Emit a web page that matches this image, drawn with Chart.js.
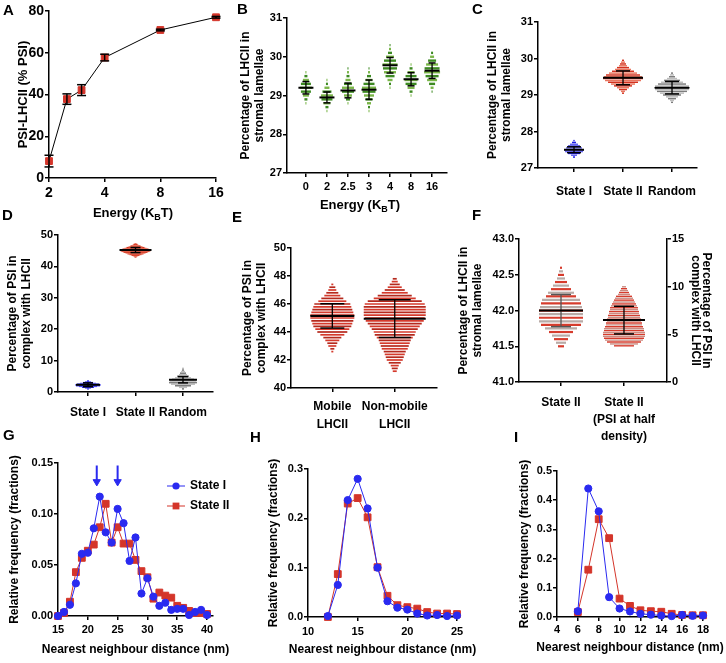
<!DOCTYPE html>
<html>
<head>
<meta charset="utf-8">
<title>LHCII / PSI panels</title>
<script src="https://cdn.jsdelivr.net/npm/chart.js@4.4.1/dist/chart.umd.min.js"></script>
<style>
  body { margin: 0; background: #fff; }
  #page { position: relative; width: 726px; height: 663px; overflow: hidden; font-family: "Liberation Sans", Arial, sans-serif; }
  canvas { position: absolute; }
  .letter { position: absolute; font-weight: bold; font-size: 15px; line-height: 15px; }
  .xtitle { position: absolute; font-weight: bold; font-size: 13px; line-height: 15px; white-space: nowrap; transform: translateX(-50%); }
  .xtitle sub { font-size: 9px; vertical-align: -3px; line-height: 0; }
</style>
</head>
<body>
<div id="page">
  <canvas id="chA" width="240" height="205" style="left:0;top:0"></canvas>
  <canvas id="chB" width="240" height="205" style="left:230px;top:0"></canvas>
  <canvas id="chC" width="256" height="205" style="left:470px;top:0"></canvas>
  <canvas id="chD" width="240" height="210" style="left:0;top:215px"></canvas>
  <canvas id="chE" width="240" height="230" style="left:230px;top:215px"></canvas>
  <canvas id="chF" width="276" height="235" style="left:450px;top:215px"></canvas>
  <canvas id="chG" width="240" height="223" style="left:0;top:440px"></canvas>
  <canvas id="chH" width="240" height="223" style="left:240px;top:440px"></canvas>
  <canvas id="chI" width="246" height="223" style="left:480px;top:440px"></canvas>

  <div class="xtitle" style="left:133px;top:205px">Energy (K<sub>B</sub>T)</div>
  <div class="xtitle" style="left:360px;top:197px">Energy (K<sub>B</sub>T)</div>

  <div class="letter" style="left:3px;top:2px">A</div>
  <div class="letter" style="left:237px;top:1px">B</div>
  <div class="letter" style="left:472px;top:1px">C</div>
  <div class="letter" style="left:2px;top:207px">D</div>
  <div class="letter" style="left:232px;top:209px">E</div>
  <div class="letter" style="left:472px;top:207px">F</div>
  <div class="letter" style="left:3px;top:427px">G</div>
  <div class="letter" style="left:250px;top:429px">H</div>
  <div class="letter" style="left:514px;top:429px">I</div>
</div>
<script>
const FONT = '"Liberation Sans", Arial, sans-serif';
Chart.defaults.font.family = FONT;
Chart.defaults.font.weight = 'bold';
Chart.defaults.color = '#000';

const RED = '#d4352a';
const BLUE = '#2a2af0';

// A - PSI-LHCII vs energy
const aEnergy = [2, 2.5, 3, 4, 8, 16];
const aMean = [8.1, 37.8, 42.1, 57.7, 70.9, 77.0];
const aErr = [2.8, 2.5, 2.6, 1.6, 0.4, 0.4];
const aXTicks = [2, 4, 8, 16];
const aYTicks = [0, 20, 40, 60, 80];

// B - LHCII in stromal lamellae per energy
const bGroups = ['0', '2', '2.5', '3', '4', '8', '16'];
const bBins = [28.5, 28.6, 28.7, 28.8, 28.9, 29.0, 29.1, 29.2, 29.3, 29.4, 29.5, 29.6, 29.7, 29.8, 29.9, 30.0, 30.1, 30.2, 30.3];
const bCounts0 = [0, 0, 0, 1, 3, 6, 10, 12, 10, 6, 3, 1, 0, 0, 0, 0, 0, 0, 0];
const bCounts2 = [0, 1, 3, 7, 11, 12, 9, 5, 2, 1, 0, 0, 0, 0, 0, 0, 0, 0, 0];
const bCounts25 = [0, 0, 0, 1, 4, 8, 12, 12, 8, 5, 3, 2, 1, 0, 0, 0, 0, 0, 0];
const bCounts3 = [0, 1, 2, 4, 7, 10, 13, 14, 11, 7, 4, 2, 1, 0, 0, 0, 0, 0, 0];
const bCounts4 = [0, 0, 0, 0, 0, 0, 0, 1, 2, 5, 9, 12, 14, 15, 12, 8, 4, 2, 1];
const bCounts8 = [0, 0, 0, 0, 0, 1, 3, 7, 11, 13, 11, 7, 3, 1, 0, 0, 0, 0, 0];
const bCounts16 = [0, 0, 0, 0, 0, 0, 1, 3, 6, 10, 13, 16, 15, 12, 8, 4, 2, 0, 0];
const bMeans = [29.2, 28.95, 29.13, 29.15, 29.78, 29.42, 29.64];
const bSds = [0.16, 0.14, 0.19, 0.25, 0.2, 0.17, 0.2];
const bYTicks = [27, 28, 29, 30, 31];

// C - LHCII in stromal lamellae per state
const cGroups = ['State I', 'State II', 'Random'];
const cState1Bins = [27.3, 27.35, 27.4, 27.45, 27.5, 27.55, 27.6, 27.65, 27.7, 27.75];
const cState1Counts = [1, 3, 6, 9, 10, 8, 6, 4, 2, 1];
const cState2Bins = [29.05, 29.1, 29.15, 29.2, 29.25, 29.3, 29.35, 29.4, 29.45, 29.5, 29.55, 29.6, 29.65, 29.7, 29.75, 29.8, 29.85, 29.9, 29.95];
const cState2Counts = [1, 2, 4, 6, 9, 12, 15, 18, 20, 19, 17, 14, 11, 8, 6, 4, 3, 2, 1];
const cRandomBins = [28.8, 28.85, 28.9, 28.95, 29.0, 29.05, 29.1, 29.15, 29.2, 29.25, 29.3, 29.35, 29.4, 29.45, 29.5, 29.55, 29.6];
const cRandomCounts = [1, 2, 4, 6, 9, 12, 15, 17, 18, 17, 14, 11, 8, 5, 3, 2, 1];
const cMeans = [27.5, 29.47, 29.2];
const cSds = [0.08, 0.19, 0.17];
const cYTicks = [27, 28, 29, 30, 31];

// D - PSI in complex with LHCII per state
const dGroups = ['State I', 'State II', 'Random'];
const dState1Bins = [1.0, 1.25, 1.5, 1.75, 2.0, 2.25, 2.5, 2.75, 3.0, 3.25, 3.5];
const dState1Counts = [1, 3, 6, 9, 12, 13, 11, 8, 5, 3, 1];
const dState2Bins = [43.0, 43.25, 43.5, 43.75, 44.0, 44.25, 44.5, 44.75, 45.0, 45.25, 45.5, 45.75, 46.0, 46.25, 46.5, 46.75, 47.0, 47.25];
const dState2Counts = [1, 2, 4, 6, 8, 10, 12, 14, 15, 15, 13, 11, 9, 7, 5, 3, 2, 1];
const dRandomBins = [1.0, 1.5, 2.0, 2.5, 3.0, 3.5, 4.0, 4.5, 5.0, 5.5, 6.0, 6.5, 7.0, 7.5];
const dRandomCounts = [1, 4, 8, 12, 14, 13, 11, 8, 6, 4, 3, 2, 1, 1];
const dMeans = [2.3, 45.2, 3.9];
const dSds = [0.6, 0.8, 1.0];
const dYTicks = [0, 10, 20, 30, 40, 50];

// E - mobile vs non-mobile LHCII
const eGroups = [['Mobile', 'LHCII'], ['Non-mobile', 'LHCII']];
const eMobileBins = [42.6, 42.8, 43.0, 43.2, 43.4, 43.6, 43.8, 44.0, 44.2, 44.4, 44.6, 44.8, 45.0, 45.2, 45.4, 45.6, 45.8, 46.0, 46.2, 46.4, 46.6, 46.8, 47.0, 47.2, 47.4];
const eMobileCounts = [1, 2, 4, 5, 7, 9, 12, 15, 17, 19, 20, 21, 22, 22, 21, 20, 19, 18, 14, 11, 8, 6, 4, 3, 1];
const eNonMobileBins = [41.2, 41.4, 41.6, 41.8, 42.0, 42.2, 42.4, 42.6, 42.8, 43.0, 43.2, 43.4, 43.6, 43.8, 44.0, 44.2, 44.4, 44.6, 44.8, 45.0, 45.2, 45.4, 45.6, 45.8, 46.0, 46.2, 46.4, 46.6, 46.8, 47.0, 47.2, 47.4, 47.6, 47.8];
const eNonMobileCounts = [2, 3, 4, 6, 8, 9, 10, 11, 13, 14, 15, 16, 18, 20, 21, 23, 25, 27, 29, 30, 31, 31, 31, 31, 30, 27, 21, 17, 13, 10, 7, 5, 3, 2];
const eMeans = [45.15, 44.95];
const eSds = [0.87, 1.35];
const eYTicks = [40, 42, 44, 46, 48, 50];

// F - State II vs PSI at half density (two axes)
const fGroups = [['State II'], ['State II', '(PSI at half', 'density)']];
const fState2Bins = [41.5, 41.55, 41.6, 41.65, 41.7, 41.75, 41.8, 41.85, 41.9, 41.95, 42.0, 42.05, 42.1, 42.15, 42.2, 42.25, 42.3, 42.35, 42.4, 42.45, 42.5, 42.55, 42.6];
const fState2Counts = [3, 5, 7, 9, 12, 16, 20, 22, 22, 22, 22, 21, 20, 19, 15, 13, 10, 8, 6, 4, 3, 2, 1];
const fHalfBins = [3.8, 4.0, 4.2, 4.4, 4.6, 4.8, 5.0, 5.2, 5.4, 5.6, 5.8, 6.0, 6.2, 6.4, 6.6, 6.8, 7.0, 7.2, 7.4, 7.6, 7.8, 8.0, 8.2, 8.4, 8.6, 8.8, 9.0, 9.2, 9.4, 9.6, 9.8, 10.0];
const fHalfCounts = [10, 14, 17, 19, 20, 21, 21, 21, 20, 20, 19, 18, 18, 17, 17, 16, 16, 15, 15, 14, 14, 13, 12, 11, 10, 9, 8, 6, 5, 4, 3, 2];
const fMeans = [42.0, 6.5];
const fSds = [0.225, 1.45];
const fYTicks = [41.0, 41.5, 42.0, 42.5, 43.0];
const fY2Ticks = [0, 5, 10, 15];

// G, H, I - nearest neighbour distance histograms
const seriesLabels = ['State I', 'State II'];
const gX = [15, 16, 17, 18, 19, 20, 21, 22, 23, 24, 25, 26, 27, 28, 29, 30, 31, 32, 33, 34, 35, 36, 37, 38, 39, 40];
const gState1 = [0.000, 0.004, 0.011, 0.032, 0.061, 0.062, 0.086, 0.117, 0.082, 0.072, 0.105, 0.091, 0.054, 0.077, 0.022, 0.037, 0.019, 0.010, 0.013, 0.006, 0.007, 0.007, 0.001, 0.004, 0.006, 0.001];
const gState2 = [0.000, 0.003, 0.014, 0.043, 0.057, 0.064, 0.070, 0.087, 0.110, 0.072, 0.087, 0.071, 0.071, 0.055, 0.044, 0.038, 0.017, 0.023, 0.020, 0.018, 0.010, 0.008, 0.005, 0.003, 0.003, 0.002];
const gArrowX = [21.5, 25.0];
const gArrowTop = 0.1475;
const gArrowHead = 0.1316;
const gXTicks = [15, 20, 25, 30, 35, 40];
const gYTicks = [0, 0.05, 0.10, 0.15];

const hX = [12, 13, 14, 15, 16, 17, 18, 19, 20, 21, 22, 23, 24, 25];
const hState1 = [0.002, 0.065, 0.237, 0.280, 0.220, 0.100, 0.032, 0.019, 0.015, 0.007, 0.003, 0.004, 0.002, 0.003];
const hState2 = [0.000, 0.087, 0.230, 0.241, 0.202, 0.101, 0.043, 0.024, 0.020, 0.017, 0.010, 0.007, 0.007, 0.006];
const hXTicks = [10, 15, 20, 25];
const hYTicks = [0, 0.1, 0.2, 0.3];

const iX = [6, 7, 8, 9, 10, 11, 12, 13, 14, 15, 16, 17, 18];
const iState1 = [0.020, 0.440, 0.362, 0.068, 0.029, 0.019, 0.011, 0.008, 0.005, 0.003, 0.007, 0.004, 0.005];
const iState2 = [0.017, 0.162, 0.335, 0.270, 0.063, 0.038, 0.023, 0.020, 0.018, 0.011, 0.007, 0.006, 0.006];
const iXTicks = [4, 6, 8, 10, 12, 14, 16, 18];
const iYTicks = [0, 0.1, 0.2, 0.3, 0.4, 0.5];

const LHCII_TITLE = ['Percentage of LHCII in', 'stromal lamellae'];
const PSI_TITLE = ['Percentage of PSI in', 'complex with LHCII'];
const NND_TITLE = 'Nearest neighbour distance (nm)';
const FREQ_TITLE = 'Relative frequency (fractions)';

// axis in the Prism style: black line, ticks outside, fixed size
function axis(o) {
  return {
    type: o.type || 'linear',
    position: o.position,
    min: o.min,
    max: o.max,
    bounds: 'data',
    grid: { drawOnChartArea: false, drawTicks: true, tickLength: 4, tickWidth: 1.5, tickColor: '#000', color: '#000', lineWidth: 1.5 },
    border: { display: true, color: '#000', width: 1.5 },
    ticks: {
      autoSkip: false, maxRotation: 0, minRotation: 0, color: '#000',
      padding: o.pad == null ? 1 : o.pad,
      font: { size: o.font || 11, weight: 'bold', lineHeight: o.lh || 1.2 },
      callback: o.fmt || (v => v)
    },
    afterBuildTicks: s => { s.ticks = o.ticks.map(v => ({ value: v })); },
    afterFit: s => { if (s.isHorizontal()) s.height = o.size; else s.width = o.size; },
    title: { display: false }
  };
}

// axis titles drawn without Chart.js' maxWidth squeeze (the titles run past the axes)
function titles(spec) {
  return {
    id: 'axisTitles',
    afterDraw(chart) {
      const ctx = chart.ctx;
      Object.keys(spec).forEach(id => {
        const t = spec[id];
        const s = chart.scales[id];
        const lines = [].concat(t.text);
        const size = t.size || 12;
        const lh = size * (t.lh || 1.2);
        ctx.save();
        ctx.font = 'bold ' + size + 'px ' + FONT;
        ctx.fillStyle = '#000';
        ctx.textAlign = 'center';
        ctx.textBaseline = 'middle';
        if (s.isHorizontal()) {
          const y0 = s.bottom - lh / 2 - lh * (lines.length - 1);
          lines.forEach((l, i) => ctx.fillText(l, (s.left + s.right) / 2, y0 + i * lh));
        } else {
          const right = s.position === 'right';
          ctx.translate(right ? s.right - lh / 2 : s.left + lh / 2, (s.top + s.bottom) / 2);
          ctx.rotate(right ? Math.PI / 2 : -Math.PI / 2);
          lines.forEach((l, i) => ctx.fillText(l, 0, i * lh));
        }
        ctx.restore();
      });
    }
  };
}

function opts(padding, scales, pluginOpts) {
  return {
    responsive: false,
    animation: false,
    events: [],
    layout: { padding },
    plugins: Object.assign({ legend: { display: false }, tooltip: { enabled: false } }, pluginOpts || {}),
    scales
  };
}

// one row per bin, drawn as a horizontal stroke centred on the group
function swarm(x, bins, counts, colors, k, lw, axisId) {
  return {
    data: bins.map(b => ({ x: x, y: b })),
    yAxisID: axisId || 'y',
    pointStyle: 'line',
    pointRadius: counts.map(c => c * k),
    pointBorderColor: bins.map((b, i) => colors[i % colors.length]),
    pointBorderWidth: lw,
    pointHoverRadius: 0,
    clip: false,
    order: 2
  };
}

function meanSd(x, mean, sd, meanHalf, capHalf, color, axisId) {
  const id = axisId || 'y';
  const c = color || '#000';
  return [
    { data: [{ x, y: mean }], yAxisID: id, pointStyle: 'line', pointRadius: meanHalf,
      pointBorderColor: '#000', pointBorderWidth: 2, clip: false, order: 0 },
    { data: [{ x, y: mean - sd }, { x, y: mean + sd }], yAxisID: id, showLine: true,
      borderColor: c, borderWidth: 1.3, pointStyle: 'line', pointRadius: capHalf,
      pointBorderColor: c, pointBorderWidth: 1.5, clip: false, order: 1 }
  ];
}

function series(label, xs, ys, color, style, r, order) {
  return {
    label, data: xs.map((x, i) => ({ x, y: ys[i] })), showLine: true,
    borderColor: color, borderWidth: 1, pointStyle: style, pointRadius: r,
    pointBackgroundColor: color, pointBorderColor: color, pointBorderWidth: 1,
    clip: false, order
  };
}

// legend with a line through the marker, as in the figure
const lineLegend = {
  id: 'lineLegend',
  afterDatasetsDraw(chart, args, o) {
    if (!o || !o.items) return;
    const ctx = chart.ctx;
    o.items.forEach((idx, k) => {
      const ds = chart.data.datasets[idx];
      const y = o.y + k * o.gap;
      const cx = o.x + o.len / 2;
      ctx.save();
      ctx.strokeStyle = ds.borderColor;
      ctx.fillStyle = ds.pointBackgroundColor;
      ctx.lineWidth = 1;
      ctx.beginPath();
      ctx.moveTo(o.x, y);
      ctx.lineTo(o.x + o.len, y);
      ctx.stroke();
      ctx.beginPath();
      if (ds.pointStyle === 'rect') {
        const h = ds.pointRadius * Math.SQRT1_2;
        ctx.rect(cx - h, y - h, 2 * h, 2 * h);
      } else {
        ctx.arc(cx, y, ds.pointRadius, 0, Math.PI * 2);
      }
      ctx.fill();
      ctx.font = 'bold 12px ' + FONT;
      ctx.fillStyle = '#000';
      ctx.textBaseline = 'middle';
      ctx.fillText(ds.label, o.x + o.len + 5, y);
      ctx.restore();
    });
  }
};

const BLUE_ROWS = ['#1c1ce6', '#6767f2'];
const RED_ROWS = ['#d3321f', '#e9765f'];
const GREY_ROWS = ['#7d7d7d', '#bdbdbd'];
const GREEN_ROWS = ['#3d8a22', '#7ab648'];

// ---- A
const aSets = [series('A', aEnergy, aMean, RED, 'rect', 4.8, 1)];
aSets[0].borderColor = '#000';
aEnergy.forEach((x, i) => {
  aSets.push({
    data: [{ x, y: aMean[i] - aErr[i] }, { x, y: aMean[i] + aErr[i] }], showLine: true,
    borderColor: '#000', borderWidth: 1.5, pointStyle: 'line', pointRadius: 4.5,
    pointBorderColor: '#000', pointBorderWidth: 1.5, clip: false, order: 0
  });
});
new Chart(document.getElementById('chA'), {
  type: 'scatter',
  data: { datasets: aSets },
  options: opts({ left: 16, top: 11, right: 24, bottom: 0 }, {
    x: axis({ type: 'logarithmic', min: 2, max: 16, ticks: aXTicks, size: 27, pad: 3, font: 14 }),
    y: axis({ min: 0, max: 80, ticks: aYTicks, size: 33, font: 14 })
  }),
  plugins: [titles({ y: { text: 'PSI-LHCII (% PSI)', size: 13 } })]
});

// ---- B
const bCounts = [bCounts0, bCounts2, bCounts25, bCounts3, bCounts4, bCounts8, bCounts16];
const bSets = [];
bGroups.forEach((g, i) => {
  bSets.push(swarm(i, bBins, bCounts[i], GREEN_ROWS, 0.5, 2.4));
  bSets.push(...meanSd(i, bMeans[i], bSds[i], 7.5, 3.5));
});
new Chart(document.getElementById('chB'), {
  type: 'scatter',
  data: { datasets: bSets },
  options: opts({ left: 8, top: 18, right: 23, bottom: 0 }, {
    x: axis({ min: -0.9, max: 6.71, ticks: bGroups.map((g, i) => i), size: 32, pad: 3, fmt: v => bGroups[v] }),
    y: axis({ min: 27, max: 31, ticks: bYTicks, size: 49 })
  }),
  plugins: [titles({ y: { text: LHCII_TITLE } })]
});

// ---- C
const cSets = [
  swarm(0, cState1Bins, cState1Counts, BLUE_ROWS, 1, 1.5),
  swarm(1, cState2Bins, cState2Counts, RED_ROWS, 1, 1.5),
  swarm(2, cRandomBins, cRandomCounts, GREY_ROWS, 1, 1.5)
];
[10, 20, 17].forEach((half, i) => cSets.push(...meanSd(i, cMeans[i], cSds[i], half, 7)));
new Chart(document.getElementById('chC'), {
  type: 'scatter',
  data: { datasets: cSets },
  options: opts({ left: 15, top: 7, right: 29, bottom: 0 }, {
    x: axis({ min: -0.735, max: 2.51, ticks: [0, 1, 2], size: 37, pad: 12, font: 12, fmt: v => cGroups[v] }),
    y: axis({ min: 27, max: 31, ticks: cYTicks, size: 53 })
  }),
  plugins: [titles({ y: { text: LHCII_TITLE } })]
});

// ---- D
const dSets = [
  swarm(0, dState1Bins, dState1Counts, BLUE_ROWS, 1, 1.3),
  swarm(1, dState2Bins, dState2Counts, RED_ROWS, 1, 1.3),
  swarm(2, dRandomBins, dRandomCounts, GREY_ROWS, 1, 1.6)
];
[12, 16, 14].forEach((half, i) => dSets.push(...meanSd(i, dMeans[i], dSds[i], half, 5)));
new Chart(document.getElementById('chD'), {
  type: 'scatter',
  data: { datasets: dSets },
  options: opts({ left: 5, top: 20, right: 27, bottom: 0 }, {
    x: axis({ min: -0.632, max: 2.632, ticks: [0, 1, 2], size: 33, pad: 9, font: 12, fmt: v => dGroups[v] }),
    y: axis({ min: 0, max: 50, ticks: dYTicks, size: 53 })
  }),
  plugins: [titles({ y: { text: PSI_TITLE } })]
});

// ---- E
const eSets = [
  swarm(0, eMobileBins, eMobileCounts, ['#d53a2c', '#b5291d'], 1, 1.7),
  swarm(1, eNonMobileBins, eNonMobileCounts, ['#d53a2c', '#b5291d'], 1, 1.7)
];
eSets.push(...meanSd(0, eMeans[0], eSds[0], 22, 12));
eSets.push(...meanSd(1, eMeans[1], eSds[1], 31, 16));
new Chart(document.getElementById('chE'), {
  type: 'scatter',
  data: { datasets: eSets },
  options: opts({ left: 10, top: 22, right: 27, bottom: 0 }, {
    x: axis({ min: -0.662, max: 1.677, ticks: [0, 1], size: 57, pad: 6, font: 12, lh: 1.5, fmt: v => eGroups[v] }),
    y: axis({ min: 40, max: 50, ticks: eYTicks, size: 51 })
  }),
  plugins: [titles({ y: { text: PSI_TITLE } })]
});

// ---- F
const fSets = [
  swarm(0, fState2Bins, fState2Counts, ['#d63c2d', '#b8aaa6'], 1, 2.2, 'y'),
  swarm(1, fHalfBins, fHalfCounts, ['#d63c2d', '#c98a80'], 1, 1.4, 'y2')
];
fSets.push(...meanSd(0, fMeans[0], fSds[0], 22, 10, '#555', 'y'));
fSets.push(...meanSd(1, fMeans[1], fSds[1], 21, 10, '#000', 'y2'));
new Chart(document.getElementById('chF'), {
  type: 'scatter',
  data: { datasets: fSets },
  options: opts({ left: 6, top: 19, right: 14, bottom: 0 }, {
    x: axis({ min: -0.667, max: 1.683, ticks: [0, 1], size: 68, pad: 8.5, font: 12, lh: 1.42, fmt: v => fGroups[v] }),
    y: axis({ min: 41, max: 43, ticks: fYTicks, size: 63, fmt: v => v.toFixed(1) }),
    y2: axis({ position: 'right', min: 0, max: 15, ticks: fY2Ticks, size: 45 })
  }),
  plugins: [titles({ y: { text: LHCII_TITLE }, y2: { text: PSI_TITLE, lh: 0.9 } })]
});

// ---- G
const gSets = [
  series(seriesLabels[0], gX, gState1, BLUE, 'circle', 3.6, 0),
  series(seriesLabels[1], gX, gState2, RED, 'rect', 4.8, 1)
];
gArrowX.forEach(x => {
  gSets.push({ data: [{ x, y: gArrowTop }, { x, y: gArrowHead }], showLine: true, borderColor: BLUE,
    borderWidth: 2, pointRadius: 0, clip: false, order: 0 });
});
gSets.push({ data: gArrowX.map(x => ({ x, y: gArrowHead })), pointStyle: 'triangle', pointRotation: 180,
  pointRadius: 4.2, pointBackgroundColor: BLUE, pointBorderColor: BLUE, pointBorderWidth: 1, clip: false, order: 0 });
new Chart(document.getElementById('chG'), {
  type: 'scatter',
  data: { datasets: gSets },
  options: opts({ left: 7, top: 23, right: 27, bottom: 6 }, {
    x: axis({ min: 15, max: 41, ticks: gXTicks, size: 41, pad: 3 }),
    y: axis({ min: 0, max: 0.15, ticks: gYTicks, size: 51, fmt: v => v.toFixed(2) })
  }, { lineLegend: { items: [0, 1], x: 167, y: 46, gap: 20, len: 18 } }),
  plugins: [lineLegend, titles({ x: { text: NND_TITLE }, y: { text: FREQ_TITLE } })]
});

// ---- H
new Chart(document.getElementById('chH'), {
  type: 'scatter',
  data: { datasets: [
    series(seriesLabels[0], hX, hState1, BLUE, 'circle', 3.6, 0),
    series(seriesLabels[1], hX, hState2, RED, 'rect', 4.8, 1)
  ] },
  options: opts({ left: 26, top: 29, right: 23, bottom: 6 }, {
    x: axis({ min: 10, max: 25, ticks: hXTicks, size: 40, pad: 4 }),
    y: axis({ min: 0, max: 0.3, ticks: hYTicks, size: 42, fmt: v => v.toFixed(1) })
  }),
  plugins: [titles({ x: { text: NND_TITLE }, y: { text: FREQ_TITLE } })]
});

// ---- I
new Chart(document.getElementById('chI'), {
  type: 'scatter',
  data: { datasets: [
    series(seriesLabels[0], iX, iState1, BLUE, 'circle', 3.6, 0),
    series(seriesLabels[1], iX, iState2, RED, 'rect', 4.8, 1)
  ] },
  options: opts({ left: 37, top: 31, right: 23, bottom: 8 }, {
    x: axis({ min: 4, max: 18, ticks: iXTicks, size: 38, pad: 2 }),
    y: axis({ min: 0, max: 0.5, ticks: iYTicks, size: 40, fmt: v => v.toFixed(1) })
  }),
  plugins: [titles({ x: { text: NND_TITLE }, y: { text: FREQ_TITLE } })]
});
</script>
</body>
</html>
